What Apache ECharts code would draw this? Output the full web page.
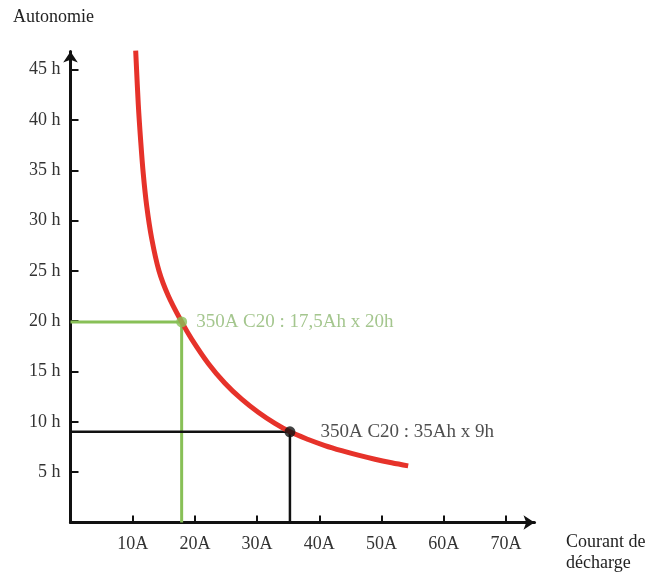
<!DOCTYPE html>
<html>
<head>
<meta charset="utf-8">
<script src="https://cdn.jsdelivr.net/npm/echarts@6/dist/echarts.min.js"></script>
<style>html,body{margin:0;padding:0;background:#fff}#c{width:656px;height:572px}</style>
</head>
<body>
<div id="c"></div>
<script>
// Data
const curveX = [10.48, 10.90, 11.28, 11.70, 12.25, 13.05, 14.22, 15.72, 17.87, 19.48, 22.15, 24.83, 27.52, 30.18, 32.87, 35.28, 38.22, 40.90, 43.59, 46.26, 48.94, 51.62, 54.29];
const curveY = [46.89, 41.53, 37.96, 34.65, 31.46, 28.23, 25.01, 22.53, 19.93, 18.23, 15.81, 13.84, 12.25, 10.95, 9.84, 9.01, 8.25, 7.65, 7.14, 6.69, 6.29, 5.94, 5.63];
const xTicks = [10, 20, 30, 40, 50, 60, 70];
const yTicks = [5, 10, 15, 20, 25, 30, 35, 40, 45];
const pointGreen = [17.87, 19.93];
const pointBlack = [35.28, 9.01];
const labelGreen = '350A C20 : 17,5Ah x 20h';
const labelBlack = '350A C20 : 35Ah x 9h';
const yName = 'Autonomie';
const xName = 'Courant de\ndécharge';

const FONT = '"Liberation Serif", "DejaVu Serif", serif';
const RED = '#e6322a';
const GREEN = '#88c057';
const GREEN_TXT = '#8db872';
const INK = '#111111';

const chart = echarts.init(document.getElementById('c'), null, {renderer: 'canvas'});
chart.setOption({
  animation: false,
  backgroundColor: '#ffffff',
  grid: {left: 70.5, right: 121.5, top: 51.5, bottom: 49.5, containLabel: false},
  graphic: [
    {type: 'text', left: 13, top: 8, style: {text: yName, font: '18px ' + FONT, fill: '#222'}},
    {type: 'text', left: 566, top: 532, style: {text: xName, font: '18px ' + FONT, fill: '#222', lineHeight: 21}}
  ],
  xAxis: {
    type: 'value', min: 0, max: 74.6,
    splitLine: {show: false},
    axisLine: {show: true, onZero: false, symbol: ['none', 'arrow'], symbolSize: [11, 11], lineStyle: {color: INK, width: 3}},
    axisTick: {show: true, inside: true, length: 7, customValues: xTicks, lineStyle: {color: INK, width: 2}},
    axisLabel: {show: true, customValues: xTicks, formatter: v => v + 'A', margin: 13, fontFamily: FONT, fontSize: 18, color: '#333'}
  },
  yAxis: {
    type: 'value', min: 0, max: 46.8,
    splitLine: {show: false},
    axisLine: {show: true, onZero: false, symbol: ['none', 'arrow'], symbolSize: [11, 11], lineStyle: {color: INK, width: 3}},
    axisTick: {show: true, inside: true, length: 8, customValues: yTicks, lineStyle: {color: INK, width: 2}},
    axisLabel: {show: true, customValues: yTicks, formatter: v => v + ' h', margin: 10, fontFamily: FONT, fontSize: 18, color: '#333'}
  },
  series: [
    {
      type: 'line', z: 2, silent: true, showSymbol: false,
      data: [[0, pointGreen[1]], pointGreen, [pointGreen[0], 0]],
      lineStyle: {color: GREEN, width: 3}
    },
    {
      type: 'line', z: 2, silent: true, showSymbol: false,
      data: [[0, pointBlack[1]], pointBlack, [pointBlack[0], 0]],
      lineStyle: {color: INK, width: 2.5}
    },
    {
      type: 'line', z: 3, smooth: 0.35, showSymbol: false, silent: true,
      data: curveX.map((x, i) => [x, curveY[i]]),
      lineStyle: {color: RED, width: 5}
    },
    {
      type: 'scatter', z: 4, symbolSize: 11, silent: true,
      data: [pointGreen],
      itemStyle: {color: GREEN},
      label: {show: true, position: 'right', distance: 9, formatter: labelGreen, fontFamily: FONT, fontSize: 19, color: GREEN_TXT}
    },
    {
      type: 'scatter', z: 4, symbolSize: 11, silent: true,
      data: [pointBlack],
      itemStyle: {color: INK},
      label: {show: true, position: 'right', distance: 25, formatter: labelBlack, fontFamily: FONT, fontSize: 19, color: '#222'}
    }
  ]
});
</script>
</body>
</html>
